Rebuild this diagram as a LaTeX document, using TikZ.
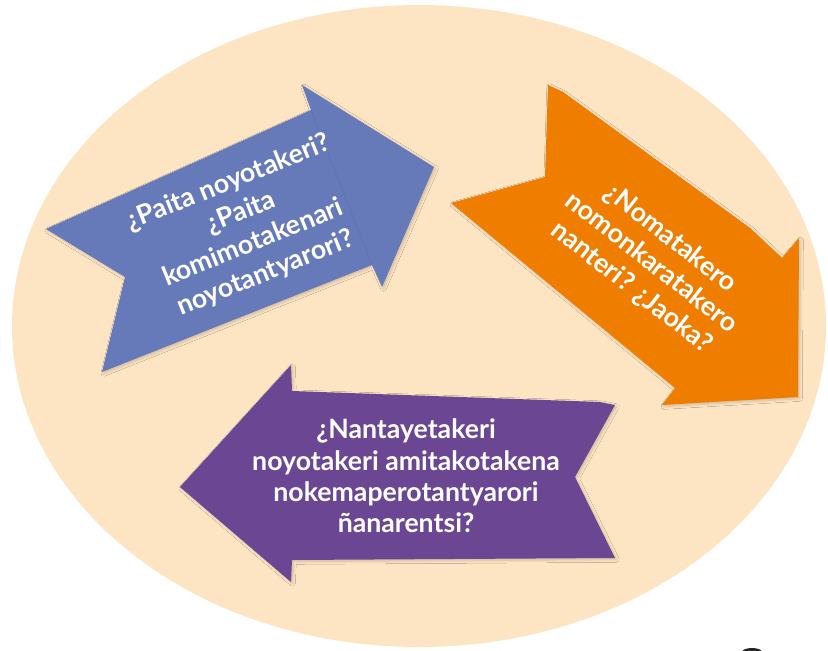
\documentclass[tikz,border=0pt]{standalone}
\usepackage{fontspec}
\setmainfont{Lato}
\usetikzlibrary{shadows.blur}
\definecolor{bgpeach}{RGB}{253,229,196}
\definecolor{arrblue}{RGB}{102,122,186}
\definecolor{arrorange}{RGB}{238,125,0}
\definecolor{arrpurple}{RGB}{107,71,147}
\tikzset{
  bigarrow/.style={blur shadow={shadow xshift=1.2pt, shadow yshift=-1.2pt, shadow blur steps=6, shadow opacity=18}},
  qtext/.style={text=white, align=center, font=\bfseries\fontsize{20}{23.5}\selectfont, inner sep=0pt},
}
\begin{document}
\begin{tikzpicture}[x=0.75pt,y=-0.75pt]
  \useasboundingbox (0,0) rectangle (828,650);
  \clip (0,0) rectangle (828,650);
  \fill[white] (0,0) rectangle (828,650);
  % background disc
  \fill[bgpeach] (419,326) ellipse [x radius=407, y radius=321];
  % small dark object at the lower edge
  \fill[black!85] (752,652) ellipse [x radius=10, y radius=4];

  % blue arrow, pointing up-right
  \fill[arrblue, bigarrow] (46,229) -- (311,110) -- (302,85) -- (434,167)
      -- (382,287) -- (372,265) -- (102,372) -- (125,277) -- cycle;
  \draw[arrblue!85!black, opacity=0.35, line width=0.6pt] (311,110) -- (372,265);
  \node[qtext, rotate=22, font=\bfseries\fontsize{20}{24.5}\selectfont] (qblue) at (247,228)
    {¿Paita noyotakeri?\\ ¿Paita\\ komimotakenari\\ noyotantyarori?};

  % orange arrow, pointing down-right
  \fill[arrorange, bigarrow] (548,85) -- (563,92) -- (750,228) -- (782,258)
      -- (799,238) -- (798,397) -- (662,405) -- (675,388) -- (451,203)
      -- (545,177) -- cycle;
  \node[qtext, rotate=-38] (qorange) at (651,263)
    {¿Nomatakero\\ nomonkaratakero\\ nanteri? ¿Jaoka?};

  % purple arrow, pointing left
  \fill[arrpurple, bigarrow] (180,487) -- (291,365) -- (292,391) -- (600,402)
      -- (615,405) -- (575,477) -- (615,558) -- (292,560) -- (291,582) -- cycle;
  \node[qtext] (qpurple) at (406,476)
    {¿Nantayetakeri\\ noyotakeri amitakotakena\\ nokemaperotantyarori\\ ñanarentsi?};
\end{tikzpicture}
\end{document}
